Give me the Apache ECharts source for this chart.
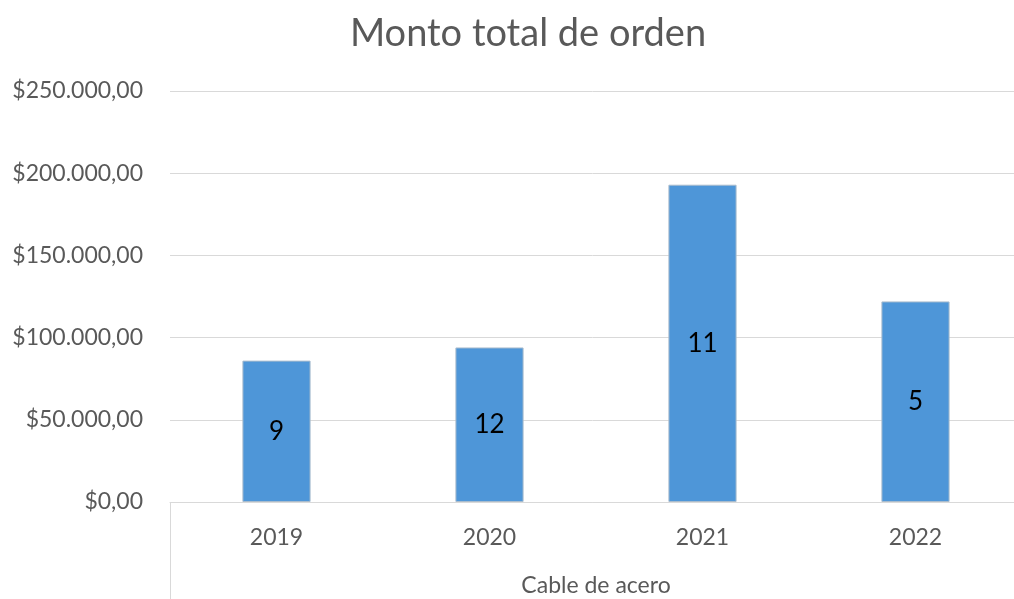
<!DOCTYPE html>
<html>
<head>
<meta charset="utf-8">
<script src="https://cdn.jsdelivr.net/npm/echarts@6/dist/echarts.min.js"></script>
<style>
  html, body { margin: 0; padding: 0; background: #fff; }
  #chart { width: 1014px; height: 599px; }
</style>
</head>
<body>
<div id="chart"></div>
<script>
// data
const years = ['2019', '2020', '2021', '2022'];
const montos = [86000, 94000, 193000, 122000];
const ordenes = [9, 12, 11, 5];
const grupo = ['Cable de acero'];

const chartDom = document.getElementById('chart');
const myChart = echarts.init(chartDom);

function moneda(v) {
  // $250.000,00 style
  const s = String(Math.round(v)).replace(/\B(?=(\d{3})+(?!\d))/g, '.');
  return '$' + s + ',00';
}

const font = 'Lato, "Open Sans", sans-serif';

const option = {
  animation: false,
  title: {
    text: 'Monto total de orden',
    left: 523,
    textAlign: 'center',
    top: 10,
    textStyle: { color: '#595959', fontSize: 38, fontWeight: 'normal', fontFamily: font }
  },
  grid: { left: 170, right: -8, top: 91, bottom: 97, containLabel: false, outerBoundsMode: 'none' },
  xAxis: [
    {
      type: 'category',
      data: years,
      axisLine: { lineStyle: { color: '#d9d9d9', width: 1 } },
      axisTick: { show: false },
      axisLabel: { color: '#595959', fontSize: 23, margin: 24, fontFamily: font }
    },
    {
      // outer category level, like Excel's multi-level axis
      type: 'category',
      data: grupo,
      position: 'bottom',
      axisLine: { show: false },
      axisTick: { show: true, length: 97, lineStyle: { color: '#d9d9d9' } },
      axisLabel: { color: '#595959', fontSize: 23, margin: 72, fontFamily: font }
    }
  ],
  yAxis: {
    type: 'value',
    min: 0,
    max: 250000,
    interval: 50000,
    axisLine: { show: false },
    axisTick: { show: false },
    splitLine: { lineStyle: { color: '#d9d9d9', width: 1 } },
    axisLabel: {
      color: '#595959', fontSize: 23, margin: 27, fontFamily: font,
      formatter: moneda
    }
  },
  series: [
    {
      type: 'bar',
      xAxisIndex: 0,
      data: montos,
      barWidth: '32%',
      itemStyle: { color: '#4e96d8', borderColor: '#a9bccd', borderWidth: 1 },
      label: {
        show: true,
        position: 'inside',
        color: '#000',
        fontSize: 26,
        fontFamily: font,
        formatter: (p) => String(ordenes[p.dataIndex])
      }
    }
  ]
};

myChart.setOption(option);
</script>
</body>
</html>
